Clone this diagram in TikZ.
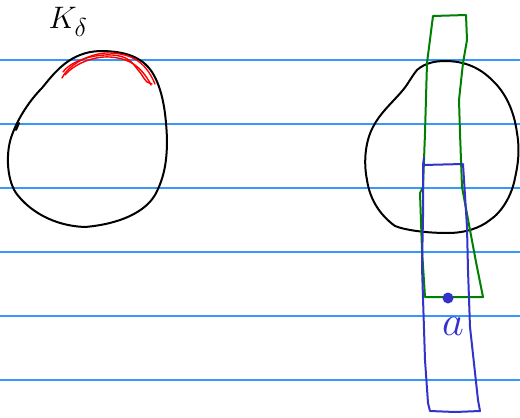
\documentclass[tikz,border=0pt]{standalone}
\definecolor{ruleblue}{RGB}{51,153,255}
\definecolor{penblue}{RGB}{51,51,204}
\definecolor{pengreen}{RGB}{0,128,0}
\begin{document}
\begin{tikzpicture}[x=1pt,y=-1pt,
  rule/.style={draw=ruleblue,line width=1.1pt},
  ink/.style={draw=black,line width=2pt,line cap=round,line join=round},
  redink/.style={draw=red,line width=1.4pt,line cap=round,line join=round},
  greenink/.style={draw=pengreen,line width=2pt,line cap=round,line join=round},
  blueink/.style={draw=penblue,line width=2pt,line cap=round,line join=round},
  lbl/.style={inner sep=0pt,font=\Huge}]
\useasboundingbox (0,0) rectangle (520,418);
\fill[white] (0,0) rectangle (520,418);
% ruled lines
\foreach \yy in {60,124,188,252,316,380} \draw[rule] (0,\yy) -- (520,\yy);
% left circle
\draw[ink] (100,51) .. controls (125,51) and (142,57) .. (152,72)
  .. controls (162,88) and (166,110) .. (167,140)
  .. controls (167,165) and (163,180) .. (155,195)
  .. controls (145,212) and (120,224) .. (85,227)
  .. controls (55,226) and (30,212) .. (16,193)
  .. controls (6,178) and (6,150) .. (12,135)
  .. controls (18,118) and (30,100) .. (42,88)
  .. controls (55,72) and (70,52) .. (100,51);
\draw[ink] (16,130) -- (19,123);
% red strokes
\draw[redink] (62,78) .. controls (70,62) and (95,52) .. (110,53) .. controls (130,54) and (145,60) .. (155,84);
\draw[redink] (65,75) .. controls (75,63) and (95,56) .. (110,57) .. controls (125,58) and (140,63) .. (151,85);
\draw[redink] (63,72) .. controls (72,60) and (95,54) .. (112,55) .. controls (128,56) and (132,62) .. (138,70) .. controls (142,74) and (143,78) .. (147,82) -- (152,84);
% K delta
\node[lbl,scale=1.25] (kd) at (68,22) {$K_\delta$};
% right circle
\draw[ink] (417,70) .. controls (425,63) and (435,61) .. (445,61)
  .. controls (465,61) and (480,68) .. (492,80)
  .. controls (505,92) and (514,110) .. (517,133)
  .. controls (520,150) and (518,165) .. (515,178)
  .. controls (512,195) and (502,212) .. (490,220)
  .. controls (480,228) and (465,233) .. (448,233)
  .. controls (425,233) and (405,230) .. (395,226)
  .. controls (380,215) and (370,200) .. (367,180)
  .. controls (363,160) and (366,140) .. (373,127)
  .. controls (380,113) and (392,103) .. (403,90)
  .. controls (408,84) and (412,76) .. (417,70);
% green rectangle
\draw[greenink] (433,16) -- (466,15) -- (467,40) -- (463,63) -- (459,100) -- (460,133) -- (462,187) -- (470,230) -- (476,262) -- (483,297) -- (425,297) -- (422,250) -- (420,193) -- (423,187) -- (425,133) -- (427,63) -- cycle;
% blue rectangle
\draw[blueink] (424,158) -- (423,165) -- (463,164) -- (467,227) -- (468,270) -- (470,327) -- (478,400) -- (480,411) -- (455,412) -- (430,411) -- (428,403) -- (425,360) -- (422,267) -- (423,217) -- (423,164);
% point a
\fill[penblue] (448,298) circle (5.5pt);
\node[lbl,text=penblue,scale=1.7] (a) at (453,326) {$a$};
\end{tikzpicture}
\end{document}
